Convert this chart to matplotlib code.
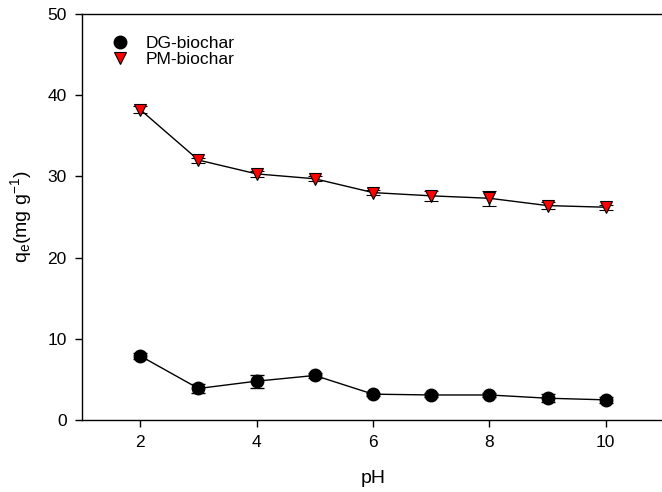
import matplotlib
matplotlib.use("Agg")
import matplotlib.pyplot as plt
from matplotlib.lines import Line2D

plt.rcParams['font.family'] = ['Liberation Sans', 'DejaVu Sans']
plt.rcParams['mathtext.fontset'] = 'custom'
plt.rcParams['mathtext.rm'] = 'Liberation Sans'
plt.rcParams['mathtext.it'] = 'Liberation Sans:italic'

# pH values
ph = [2, 3, 4, 5, 6, 7, 8, 9, 10]

# DG-biochar
dg_q = [7.9, 3.9, 4.8, 5.5, 3.2, 3.1, 3.1, 2.7, 2.5]
dg_err = [0.4, 0.6, 0.8, 0.3, 0.2, 0.2, 0.2, 0.5, 0.4]

# PM-biochar
pm_q = [38.2, 32.0, 30.3, 29.7, 28.0, 27.6, 27.3, 26.4, 26.2]
pm_err = [0.4, 0.3, 0.4, 0.3, 0.3, 0.6, 0.9, 0.4, 0.3]

fig = plt.figure(figsize=(6.62, 4.92), dpi=100)
ax = fig.add_axes([0.124, 0.146, 0.879, 0.826])

ax.errorbar(ph, dg_q, yerr=dg_err, fmt='-o', color='black', ecolor='black',
            elinewidth=1, capsize=5, capthick=1, lw=1, ms=9,
            mfc='black', mec='black')
ax.errorbar(ph, pm_q, yerr=pm_err, fmt='-v', color='black', ecolor='black',
            elinewidth=1, capsize=5, capthick=1, lw=1, ms=9,
            mfc='red', mec='black', mew=0.8)

ax.set_xlim(1, 11)
ax.set_ylim(0, 50)
ax.set_xticks([2, 4, 6, 8, 10])
ax.set_yticks([0, 10, 20, 30, 40, 50])
ax.tick_params(direction='out', length=5, labelsize=12.5, width=1, pad=6)
ax.spines['right'].set_visible(False)
for s in ['left', 'bottom', 'top']:
    ax.spines[s].set_linewidth(1)

ax.set_xlabel('pH', fontsize=14, labelpad=14)
ax.set_ylabel('q$_\\mathrm{e}$(mg g$^{\\mathrm{-1}}$)', fontsize=14, labelpad=10)

# legend shows markers only
handles = [
    Line2D([], [], ls='none', marker='o', ms=9, mfc='black', mec='black'),
    Line2D([], [], ls='none', marker='v', ms=9, mfc='red', mec='black', mew=0.8),
]
ax.legend(handles, ['DG-biochar', 'PM-biochar'], loc='upper left', frameon=False,
          fontsize=12.5, bbox_to_anchor=(0.02, 0.985), handletextpad=0.9,
          handlelength=1.2, labelspacing=0.05)

fig.savefig('out.png', dpi=100)
